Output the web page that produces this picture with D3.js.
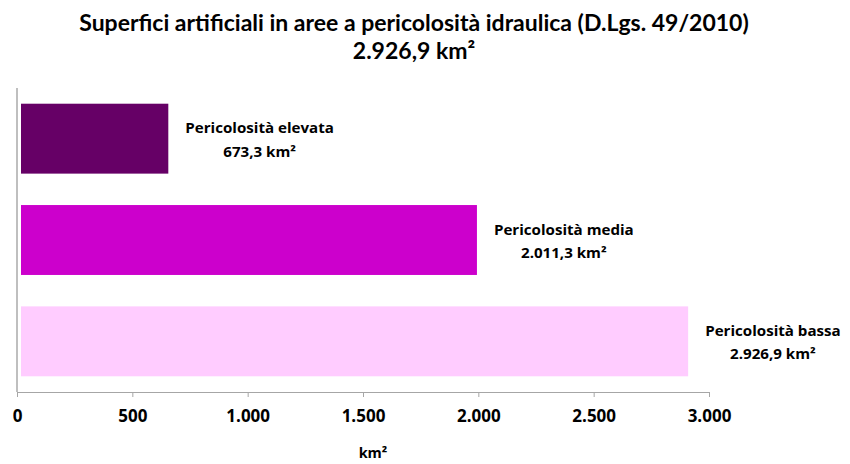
<!DOCTYPE html>
<html>
<head>
<meta charset="utf-8">
<script src="https://cdn.jsdelivr.net/npm/d3@7"></script>
<style>
  body { margin: 0; background: #fff; }
  svg { display: block; font-family: "Open Sans", Lato, sans-serif; font-weight: bold; }
</style>
</head>
<body>
<svg id="chart" width="850" height="464"></svg>
<script>
// Superfici artificiali per classe di pericolosità idraulica (km²)
const categories = ["Pericolosità elevata", "Pericolosità media", "Pericolosità bassa"];
const values = [673.3, 2011.3, 2926.9];
const colors = ["#660066", "#cc00cc", "#ffccff"];
const tickValues = [0, 500, 1000, 1500, 2000, 2500, 3000];
const titleLines = ["Superfici artificiali in aree a pericolosità idraulica (D.Lgs. 49/2010)", "2.926,9 km²"];
const axisTitle = "km²";

const svg = d3.select("#chart");
const margin = { left: 17, right: 141, top: 88, bottom: 72 };
const W = 850, H = 464;

const x = d3.scaleLinear().domain([0, 3000]).range([margin.left, W - margin.right]);
const y = d3.scaleBand().domain(categories).range([margin.top, H - margin.bottom]).paddingInner(0.31).paddingOuter(0.155);

const itFmt = d3.formatLocale({ decimal: ",", thousands: ".", grouping: [3], currency: ["€", ""] });
const tickFmt = itFmt.format(",d");
const valFmt = itFmt.format(",.1f");

// Titolo
const titleX = 414;
const title = svg.append("text").attr("text-anchor", "middle")
  .attr("font-family", "Lato, sans-serif").attr("font-size", 23).attr("fill", "#000");
title.append("tspan").attr("x", titleX).attr("y", 31).text(titleLines[0]);
title.append("tspan").attr("x", titleX).attr("y", 59).text(titleLines[1]);

// Asse X
const xAxis = svg.append("g").attr("transform", `translate(0,${H - margin.bottom})`)
  .call(d3.axisBottom(x).tickValues(tickValues).tickFormat(tickFmt).tickSize(5).tickPadding(13));
xAxis.select(".domain").attr("stroke", "#a6a6a6");
xAxis.selectAll(".tick line").attr("stroke", "#a6a6a6");
xAxis.selectAll(".tick text").attr("font-size", 17).attr("font-family", "Open Sans, sans-serif")
  .attr("font-weight", "bold").attr("fill", "#000");

// Asse Y (solo linea)
svg.append("line").attr("x1", x(0)).attr("x2", x(0))
  .attr("y1", margin.top).attr("y2", H - margin.bottom)
  .attr("stroke", "#bfbfbf").attr("stroke-width", 2);

// Titolo asse X
svg.append("text").attr("x", 373).attr("y", 458).attr("text-anchor", "middle")
  .attr("font-size", 14.5).text(axisTitle);

// Barre
svg.selectAll("rect.bar").data(values).join("rect").attr("class", "bar")
  .attr("x", x(0) + 4)
  .attr("y", (d, i) => y(categories[i]))
  .attr("width", d => x(d) - x(0) - 8)
  .attr("height", y.bandwidth())
  .attr("fill", (d, i) => colors[i]);

// Etichette (testo leggermente allargato in orizzontale)
const stretch = 1.08;
values.forEach((v, i) => {
  const cy = y(categories[i]) + y.bandwidth() / 2;
  const g = svg.append("g");
  const inner = g.append("g").attr("transform", `scale(${stretch},1)`);
  const l1 = inner.append("text").attr("text-anchor", "middle").attr("font-size", 14)
    .attr("x", 0).attr("y", -5.5).text(categories[i]);
  const l2 = inner.append("text").attr("text-anchor", "middle").attr("font-size", 14)
    .attr("x", 0).attr("y", 18).text(valFmt(v) + " km²");
  const w = stretch * Math.max(l1.node().getComputedTextLength(), l2.node().getComputedTextLength());
  const cx = Math.min(x(v) - 4 + 17 + w / 2, W - 4 - w / 2);
  g.attr("transform", `translate(${cx},${cy})`);
});
</script>
</body>
</html>
